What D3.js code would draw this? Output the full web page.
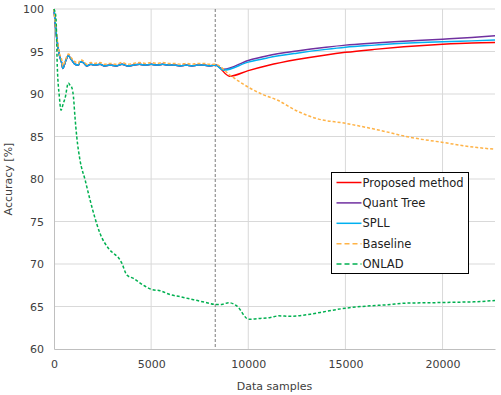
<!DOCTYPE html>
<html>
<head>
<meta charset="utf-8">
<script src="https://cdn.jsdelivr.net/npm/d3@7"></script>
<style>
  body { margin: 0; background: #fff; }
  svg { font-family: "DejaVu Sans", Verdana, sans-serif; }
</style>
</head>
<body>
<div id="chart-area"></div>
<script>
const MARGIN = { LEFT: 54, RIGHT: 6, TOP: 9, BOTTOM: 46 };
const WIDTH = 501 - MARGIN.LEFT - MARGIN.RIGHT;
const HEIGHT = 395 - MARGIN.TOP - MARGIN.BOTTOM;

const xTicks = [0, 5000, 10000, 15000, 20000];
const yTicks = [60, 65, 70, 75, 80, 85, 90, 95, 100];
const driftAt = 8300;

// before the drift the three detectors give the same accuracy
const stablePhase = [[0,100],[140,96.6],[275,94.6],[400,93.6],[450,93.0],[600,93.9],[740,94.5],[910,94.0],
  [1080,93.5],[1250,93.4],[1340,93.8],[1510,93.7],[1690,93.3],[1900,93.5],[2100,93.4],[2370,93.5],
  [2600,93.3],[2890,93.4],[3200,93.3],[3500,93.5],[3800,93.3],[4100,93.4],[4400,93.5],[4700,93.4],
  [5000,93.5],[5300,93.4],[5600,93.5],[5900,93.4],[6200,93.4],[6500,93.3],[6800,93.4],[7100,93.3],
  [7400,93.4],[7700,93.4],[8000,93.3],[8300,93.4]];

const proposedAfter = [[9040,92.1],[10000,92.75],[11000,93.35],[12500,94.05],[14000,94.6],[15000,94.9],
  [16500,95.25],[18000,95.55],[20000,95.85],[21500,96.0],[22700,96.05]];
const quantTreeAfter = [[8730,92.9],[10000,93.95],[11000,94.5],[12500,95.05],[14000,95.5],[15000,95.75],
  [16500,96.0],[17500,96.15],[20000,96.45],[21500,96.65],[22700,96.85]];
const spllAfter = [[8730,92.8],[10000,93.75],[11000,94.25],[12500,94.8],[14000,95.25],[15000,95.5],
  [16500,95.75],[17500,95.9],[20000,96.15],[21500,96.25],[22700,96.35]];

const baseline = [[0,100],[140,96.9],[275,94.8],[400,94.0],[450,93.3],[600,94.1],[740,94.7],[910,94.2],
  [1080,93.8],[1250,93.6],[1340,94.0],[1510,93.9],[1690,93.5],[1900,93.7],[2100,93.6],[2370,93.7],
  [2600,93.5],[2890,93.6],[3200,93.5],[3500,93.7],[3800,93.5],[4100,93.6],[4400,93.7],[4700,93.6],
  [5000,93.7],[5300,93.6],[5600,93.7],[5900,93.6],[6200,93.6],[6500,93.5],[6800,93.6],[7100,93.5],
  [7400,93.6],[7700,93.6],[8000,93.5],[8300,93.5],[9070,92.2],[10000,90.8],[10790,89.9],[11480,89.3],
  [12510,88.0],[13540,87.1],[15000,86.55],[16630,85.8],[18350,84.9],[20020,84.3],[21790,83.7],[22700,83.5]];

const onlad = [[0,100],[100,99],[170,93.2],[275,89.7],[360,88.1],[480,88.9],[570,89.5],[740,91.3],
  [830,91.0],[910,90.8],[1000,89.7],[1080,87.3],[1170,85.0],[1340,82.2],[1600,79.9],[1860,77.5],
  [2110,75.4],[2370,73.6],[2800,71.85],[3145,71.1],[3300,70.8],[3490,70.1],[3750,68.7],[4090,68.3],
  [4600,67.5],[5040,67.0],[5460,66.85],[5980,66.4],[6500,66.15],[7180,65.8],[7870,65.45],[8300,65.25],
  [8640,65.25],[8990,65.45],[9420,65.05],[10020,63.5],[10620,63.6],[11140,63.7],[11570,63.9],
  [12170,63.85],[13200,64.1],[14060,64.45],[15000,64.8],[16120,65.05],[17150,65.2],[18180,65.4],
  [19550,65.45],[20580,65.5],[21610,65.55],[22700,65.7]];

const series = [
  { name: "Proposed method", color: "#ff0000", dash: null, values: stablePhase.concat(proposedAfter) },
  { name: "Quant Tree", color: "#7030a0", dash: null, values: stablePhase.concat(quantTreeAfter) },
  { name: "SPLL", color: "#00b0f0", dash: null, values: stablePhase.concat(spllAfter) },
  { name: "Baseline", color: "#ffb347", dash: "3,2", values: baseline },
  { name: "ONLAD", color: "#00b050", dash: "3,2", values: onlad }
];

const svg = d3.select("#chart-area").append("svg")
  .attr("width", WIDTH + MARGIN.LEFT + MARGIN.RIGHT)
  .attr("height", HEIGHT + MARGIN.TOP + MARGIN.BOTTOM)

const g = svg.append("g")
  .attr("transform", `translate(${MARGIN.LEFT}, ${MARGIN.TOP})`)

const x = d3.scaleLinear()
  .domain([0, 22700])
  .range([0, WIDTH])

const y = d3.scaleLinear()
  .domain([60, 100])
  .range([HEIGHT, 0])

// grid
g.selectAll(".hgrid").data(yTicks.slice(1)).enter().append("line")
  .attr("x1", 0).attr("x2", WIDTH)
  .attr("y1", d => y(d)).attr("y2", d => y(d))
  .attr("stroke", "#d9d9d9")
g.selectAll(".vgrid").data(xTicks.slice(1)).enter().append("line")
  .attr("y1", 0).attr("y2", HEIGHT)
  .attr("x1", d => x(d)).attr("x2", d => x(d))
  .attr("stroke", "#d9d9d9")

const xAxisCall = d3.axisBottom(x).tickValues(xTicks).tickSize(0).tickPadding(11).tickFormat(d => d)
const xAxis = g.append("g")
  .attr("transform", `translate(0, ${HEIGHT})`)
  .call(xAxisCall)
xAxis.select(".domain").attr("stroke", "#bfbfbf")

const yAxisCall = d3.axisLeft(y).tickValues(yTicks).tickSize(0).tickPadding(10).tickFormat(d => d)
const yAxis = g.append("g").call(yAxisCall)
yAxis.select(".domain").attr("stroke", "#bfbfbf")

svg.selectAll(".tick text")
  .attr("font-size", 11)
  .attr("font-family", "DejaVu Sans, sans-serif")
  .attr("fill", "#404040")

g.append("text")
  .attr("x", WIDTH / 2)
  .attr("y", HEIGHT + 41)
  .attr("text-anchor", "middle")
  .attr("font-size", 11)
  .attr("fill", "#404040")
  .text("Data samples")

g.append("text")
  .attr("transform", "rotate(-90)")
  .attr("x", -HEIGHT / 2)
  .attr("y", -42)
  .attr("text-anchor", "middle")
  .attr("font-size", 11)
  .attr("fill", "#404040")
  .text("Accuracy [%]")

// drift marker
g.append("line")
  .attr("x1", x(driftAt)).attr("x2", x(driftAt))
  .attr("y1", 0).attr("y2", HEIGHT)
  .attr("stroke", "#595959")
  .attr("stroke-width", 0.8)
  .attr("stroke-dasharray", "3,2")

const line = d3.line()
  .x(d => x(d[0]))
  .y(d => y(d[1]))
  .curve(d3.curveMonotoneX)

g.selectAll(".series").data(series).enter().append("path")
  .attr("class", "series")
  .attr("d", d => line(d.values))
  .attr("fill", "none")
  .attr("stroke", d => d.color)
  .attr("stroke-width", 1.5)
  .attr("stroke-dasharray", d => d.dash)

// legend
const legend = svg.append("g").attr("transform", "translate(331.5, 172.5)")
legend.append("rect")
  .attr("width", 137).attr("height", 101)
  .attr("fill", "#fff").attr("stroke", "#000")

const items = legend.selectAll(".item").data(series).enter().append("g")
  .attr("transform", (d, i) => `translate(0, ${10 + i * 20.4})`)
items.append("line")
  .attr("x1", 5).attr("x2", 30)
  .attr("stroke", d => d.color)
  .attr("stroke-width", 1.5)
  .attr("stroke-dasharray", d => d.dash ? "5,3" : null)
items.append("text")
  .attr("x", 31)
  .attr("dy", "0.35em")
  .attr("font-size", 11.5)
  .attr("fill", "#222")
  .text(d => d.name)
</script>
</body>
</html>
